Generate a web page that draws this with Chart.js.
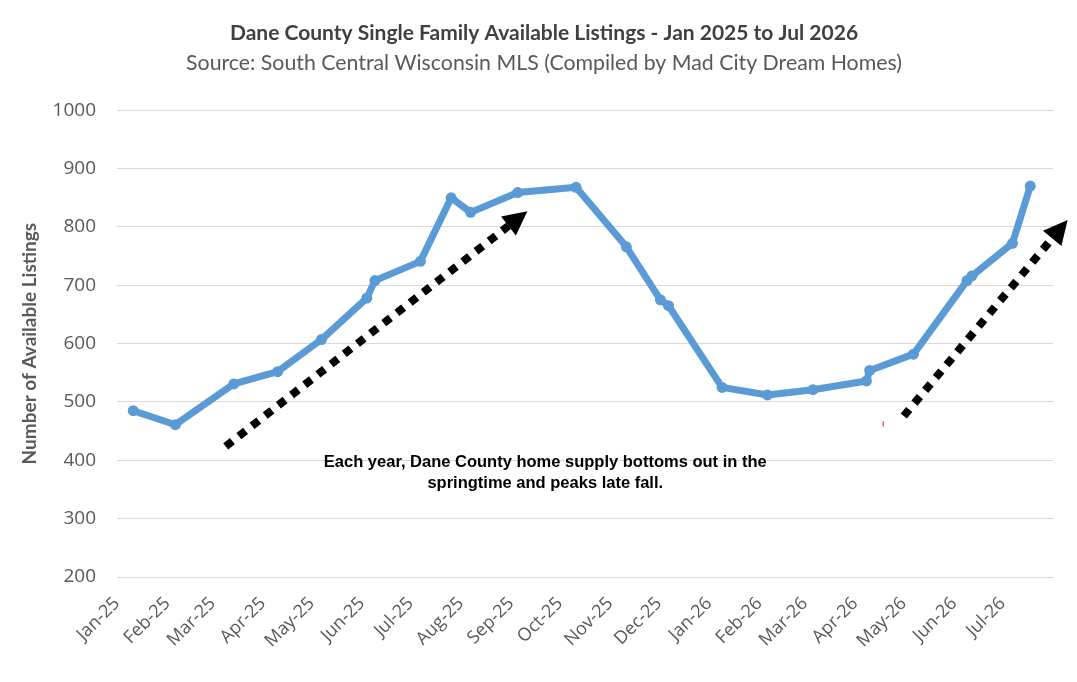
<!DOCTYPE html>
<html>
<head>
<meta charset="utf-8">
<script src="https://cdn.jsdelivr.net/npm/chart.js@4.4.1/dist/chart.umd.min.js"></script>
<style>
  body { margin: 0; background: #fff; }
  canvas { display: block; }
</style>
</head>
<body>
<canvas id="listings-chart" width="1077" height="682"></canvas>
<script>
// * datos del chart
const monthLabels = ["Jan-25", "Feb-25", "Mar-25", "Apr-25", "May-25", "Jun-25", "Jul-25", "Aug-25", "Sep-25", "Oct-25",
  "Nov-25", "Dec-25", "Jan-26", "Feb-26", "Mar-26", "Apr-26", "May-26", "Jun-26", "Jul-26"]
const monthStarts = ["2025-01-01", "2025-02-01", "2025-03-01", "2025-04-01", "2025-05-01", "2025-06-01", "2025-07-01",
  "2025-08-01", "2025-09-01", "2025-10-01", "2025-11-01", "2025-12-01", "2026-01-01", "2026-02-01", "2026-03-01",
  "2026-04-01", "2026-05-01", "2026-06-01", "2026-07-01"]

const listingDates = ["2025-01-11", "2025-02-06", "2025-03-14", "2025-04-10", "2025-05-07", "2025-06-04", "2025-06-09",
  "2025-07-07", "2025-07-26", "2025-08-07", "2025-09-05", "2025-10-11", "2025-11-11", "2025-12-02", "2025-12-07",
  "2026-01-09", "2026-02-06", "2026-03-06", "2026-04-08", "2026-04-10", "2026-05-07", "2026-06-09", "2026-06-12",
  "2026-07-07", "2026-07-18"]
const listingValues = [485, 461, 531, 552, 607, 678, 708, 741, 850, 825, 859, 868, 766, 675, 665,
  525, 512, 521, 536, 554, 582, 708, 716, 772, 870]

const yTicks = [200, 300, 400, 500, 600, 700, 800, 900, 1000]

// flechas punteadas [fecha, valor]
const arrows = [
  { from: ["2025-03-09", 424], to: ["2025-09-11", 827] },
  { from: ["2026-05-01", 476], to: ["2026-08-10", 812] },
]
const noteLines = ["Each year, Dane County home supply bottoms out in the", "springtime and peaks late fall."]
const notePos = ["2025-09-22", 397]
const redMark = ["2026-04-18", 467, 458] //! marquita roja que aparece en la imagen

const startDate = Date.UTC(2025, 0, 1)
const dayOf = (s) => {
  const [yy, mm, dd] = s.split("-").map(Number)
  return Math.round((Date.UTC(yy, mm - 1, dd) - startDate) / 86400000)
}

const greyText = "#595959"
const tickFamily = "'Open Sans', sans-serif"
const titleFamily = "Lato, sans-serif"

const annotationPlugin = {
  id: "annotations",
  afterDatasetsDraw(chart) {
    const { ctx, scales: { x, y } } = chart
    ctx.save()

    // * flechas
    arrows.forEach((a) => {
      const x1 = x.getPixelForValue(dayOf(a.from[0])), y1 = y.getPixelForValue(a.from[1])
      const x2 = x.getPixelForValue(dayOf(a.to[0])), y2 = y.getPixelForValue(a.to[1])
      const ang = Math.atan2(y2 - y1, x2 - x1)
      const headLen = 24, headW = 24
      const bx = x2 - headLen * Math.cos(ang), by = y2 - headLen * Math.sin(ang)
      ctx.strokeStyle = "#000"
      ctx.lineWidth = 8
      ctx.lineCap = "butt"
      ctx.setLineDash([8.5, 8.2])
      ctx.beginPath()
      ctx.moveTo(x1, y1)
      ctx.lineTo(bx, by)
      ctx.stroke()
      ctx.setLineDash([])
      ctx.fillStyle = "#000"
      ctx.beginPath()
      ctx.moveTo(x2, y2)
      ctx.lineTo(bx - (headW / 2) * Math.sin(ang), by + (headW / 2) * Math.cos(ang))
      ctx.lineTo(bx + (headW / 2) * Math.sin(ang), by - (headW / 2) * Math.cos(ang))
      ctx.closePath()
      ctx.fill()
    })

    // * texto
    ctx.fillStyle = "#000"
    ctx.font = "bold 16.5px 'Liberation Sans', Arial, sans-serif"
    ctx.textAlign = "center"
    ctx.textBaseline = "middle"
    const tx = x.getPixelForValue(dayOf(notePos[0])), ty = y.getPixelForValue(notePos[1])
    noteLines.forEach((line, i) => ctx.fillText(line, tx, ty + i * 21))

    // marquita roja
    const rx = x.getPixelForValue(dayOf(redMark[0])) + 0.5
    ctx.strokeStyle = "#ff0000"
    ctx.lineWidth = 1
    ctx.beginPath()
    ctx.moveTo(rx, y.getPixelForValue(redMark[1]))
    ctx.lineTo(rx, y.getPixelForValue(redMark[2]))
    ctx.stroke()

    ctx.restore()
  },
}

const contenedorLineChart = document.querySelector("#listings-chart").getContext("2d")
const listingsChart = new Chart(contenedorLineChart, {
  type: "line",
  data: {
    datasets: [
      {
        label: "Available Listings",
        data: listingDates.map((d, i) => ({ x: dayOf(d), y: listingValues[i] })),
        borderColor: "#5b9bd5",
        backgroundColor: "#5b9bd5",
        borderWidth: 7,
        borderJoinStyle: "round",
        pointRadius: 5.5,
        pointHoverRadius: 5.5,
        pointBorderWidth: 0,
        tension: 0,
      },
    ],
  },
  options: {
    responsive: false,
    animation: false,
    // left 35 para que el titulo quede centrado como en la imagen
    layout: { padding: { top: 0, right: 24, bottom: 0, left: 35 } },
    plugins: {
      legend: { display: false },
      tooltip: { enabled: false },
      title: {
        display: true,
        text: "Dane County Single Family Available Listings - Jan 2025 to Jul 2026",
        color: "#404040",
        font: { family: titleFamily, size: 21, weight: "bold", lineHeight: 1.2 },
        padding: { top: 21, bottom: 4 },
      },
      subtitle: {
        display: true,
        text: "Source: South Central Wisconsin MLS (Compiled by Mad City Dream Homes)",
        color: greyText,
        font: { family: titleFamily, size: 21.3, lineHeight: 1.2 },
        padding: { top: 0, bottom: 34.5 },
      },
    },
    scales: {
      x: {
        type: "linear",
        min: 0,
        max: dayOf("2026-08-01"),
        grid: { display: false, drawTicks: false },
        border: { display: false },
        afterBuildTicks: (scale) => {
          scale.ticks = monthStarts.map((d) => ({ value: dayOf(d) }))
        },
        ticks: {
          autoSkip: false,
          minRotation: 45,
          maxRotation: 45,
          padding: 16,
          color: greyText,
          font: { family: tickFamily, size: 18 },
          callback: (value, index) => monthLabels[index],
        },
        afterFit: (scale) => { scale.height = 105 },
      },
      y: {
        min: 200,
        max: 1000,
        afterBuildTicks: (scale) => {
          scale.ticks = yTicks.map((v) => ({ value: v }))
        },
        ticks: {
          padding: 21,
          color: greyText,
          font: { family: tickFamily, size: 19 },
          callback: (value) => String(value),
        },
        grid: { color: "#d9d9d9", lineWidth: 1, drawTicks: false },
        border: { display: false },
        title: {
          display: true,
          text: "Number of Available Listings",
          color: greyText,
          font: { family: titleFamily, size: 19, weight: "bold", lineHeight: 1.2 },
          padding: { top: -16.5, bottom: 0 },
        },
        afterFit: (scale) => { scale.width = 82 },
      },
    },
  },
  plugins: [annotationPlugin],
})
</script>
</body>
</html>
